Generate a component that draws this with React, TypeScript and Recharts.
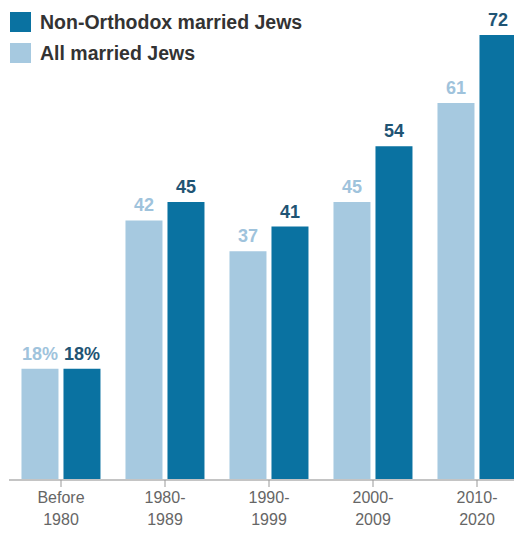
import React from 'react';
import { BarChart, Bar, XAxis, YAxis, LabelList } from 'recharts';

const categories = ['Before 1980', '1980-1989', '1990-1999', '2000-2009', '2010-2020'];
const tickLine1 = ['Before', '1980-', '1990-', '2000-', '2010-'];
const tickLine2 = ['1980', '1989', '1999', '2009', '2020'];
const allMarried = [18, 42, 37, 45, 61];
const nonOrthodox = [18, 45, 41, 54, 72];
const seriesNames = ['Non-Orthodox married Jews', 'All married Jews'];

const DARK = '#0a72a1';
const LIGHT = '#a6c9e0';
const DARK_LABEL = '#1f5474';
const LIGHT_LABEL = '#9fc3dc';
const FONT = '"Liberation Sans", Arial, sans-serif';

const data = categories.map((c, i) => ({ cat: c, all: allMarried[i], non: nonOrthodox[i] }));

const Tick = (props: any) => {
  const { x, y, payload } = props;
  const i = payload.index;
  return (
    <g>
      <line x1={x} x2={x} y1={y - 8} y2={y - 1} stroke="#999" strokeWidth={1} />
      <text x={x} y={y + 15} textAnchor="middle" fontSize={16} fill="#666" fontFamily={FONT}>
        {tickLine1[i]}
      </text>
      <text x={x} y={y + 37} textAnchor="middle" fontSize={16} fill="#666" fontFamily={FONT}>
        {tickLine2[i]}
      </text>
    </g>
  );
};

const makeLabel = (color: string, weight: number) => (props: any) => {
  const { x, y, width, value, index } = props;
  return (
    <text
      x={x + width / 2}
      y={y - 9}
      textAnchor="middle"
      fontSize={18}
      fontWeight={weight}
      fill={color}
      fontFamily={FONT}
    >
      {index === 0 ? `${value}%` : value}
    </text>
  );
};

export default function App() {
  return (
    <div style={{ margin: '-8px 0 0 -8px', width: 522, height: 533, overflow: 'hidden', position: 'relative', background: '#fff' }}>
      <div style={{ position: 'absolute', left: 10, top: 12, fontFamily: FONT, fontWeight: 700, fontSize: 19.5, color: '#333', zIndex: 2 }}>
        {[DARK, LIGHT].map((col, i) => (
          <div key={i} style={{ display: 'flex', alignItems: 'center', height: 20, marginBottom: 11 }}>
            <div style={{ width: 21, height: 20, background: col, marginRight: 9 }} />
            <span>{seriesNames[i]}</span>
          </div>
        ))}
      </div>
      <BarChart
        width={530}
        height={533}
        data={data}
        margin={{ top: 35, right: 1, bottom: 0, left: 9 }}
        barCategoryGap="12%"
        barGap={5}
      >
        <XAxis
          dataKey="cat"
          height={53}
          interval={0}
          tick={<Tick />}
          tickLine={false}
          axisLine={{ stroke: '#c4c4c4', strokeWidth: 2 }}
        />
        <YAxis hide domain={[0, 72]} />
        <Bar dataKey="all" fill={LIGHT} isAnimationActive={false}>
          <LabelList dataKey="all" content={makeLabel(LIGHT_LABEL, 600)} />
        </Bar>
        <Bar dataKey="non" fill={DARK} isAnimationActive={false}>
          <LabelList dataKey="non" content={makeLabel(DARK_LABEL, 700)} />
        </Bar>
      </BarChart>
    </div>
  );
}
